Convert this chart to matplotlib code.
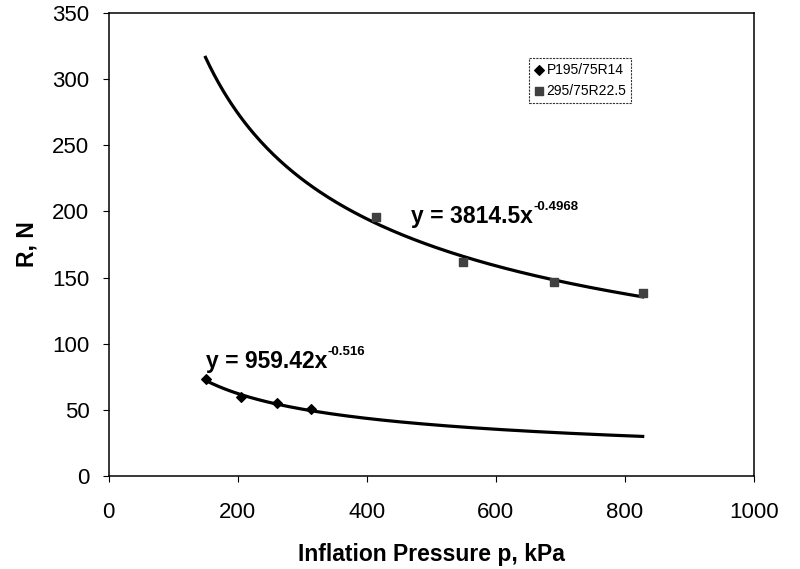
import numpy as np
import matplotlib
matplotlib.use("Agg")
import matplotlib.pyplot as plt

plt.rcParams['font.family'] = ['Liberation Sans', 'DejaVu Sans']

p_car = [151, 205, 261, 313]          # kPa
r_car = [73, 60, 55, 50.5]            # N
p_truck = [414, 549, 690, 828]
r_truck = [196, 162, 147, 138]

# power-law trendlines shown on the chart: y = a * x^b
car_fit = (959.42, -0.516)
truck_fit = (3814.5, -0.4968)
fit_range = (150, 828)

fig = plt.figure(figsize=(8, 5.69), dpi=100)
ax = fig.add_axes([0.136, 0.1634, 0.806, 0.8137])

x = np.linspace(fit_range[0], fit_range[1], 200)
ax.plot(x, truck_fit[0] * x ** truck_fit[1], color='black', lw=2.3, zorder=2)
ax.plot(x, car_fit[0] * x ** car_fit[1], color='black', lw=2.3, zorder=2)

ax.scatter(p_car, r_car, marker='D', s=24, color='black', zorder=3, label='P195/75R14')
ax.scatter(p_truck, r_truck, marker='s', s=34, color='#404040', zorder=3, label='295/75R22.5')


def equation(xd, yd, base, power):
    t = ax.text(xd, yd, base, fontsize=16.5, fontweight='bold', ha='left', va='baseline')
    ax.annotate(power, xy=(1.005, 0.78), xycoords=t, fontsize=9.5, fontweight='bold',
                ha='left', va='baseline')


equation(468, 191, 'y = 3814.5x', '-0.4968')
equation(150.5, 81.5, 'y = 959.42x', '-0.516')

ax.set_xlim(0, 1000)
ax.set_ylim(0, 350)
ax.set_xticks(range(0, 1001, 200))
ax.set_yticks(range(0, 351, 50))
ax.tick_params(labelsize=16, length=4, direction='out', width=0.8)
ax.tick_params(axis='x', pad=15)
ax.tick_params(axis='y', pad=10)
ax.set_xlabel('Inflation Pressure p, kPa', fontsize=16.5, fontweight='bold', labelpad=14)
ax.set_ylabel('R, N', fontsize=16.5, fontweight='bold', labelpad=10)
for s in ax.spines.values():
    s.set_linewidth(1.1)

leg = ax.legend(loc='upper left', bbox_to_anchor=(0.651, 0.903), borderaxespad=0,
                fontsize=10, frameon=True, fancybox=False, edgecolor='black',
                handletextpad=0.15, handlelength=0.8, borderpad=0.35, labelspacing=0.5)
leg.get_frame().set_linewidth(0.8)
leg.get_frame().set_linestyle((0, (2, 1)))

fig.savefig('out.png', dpi=100)
